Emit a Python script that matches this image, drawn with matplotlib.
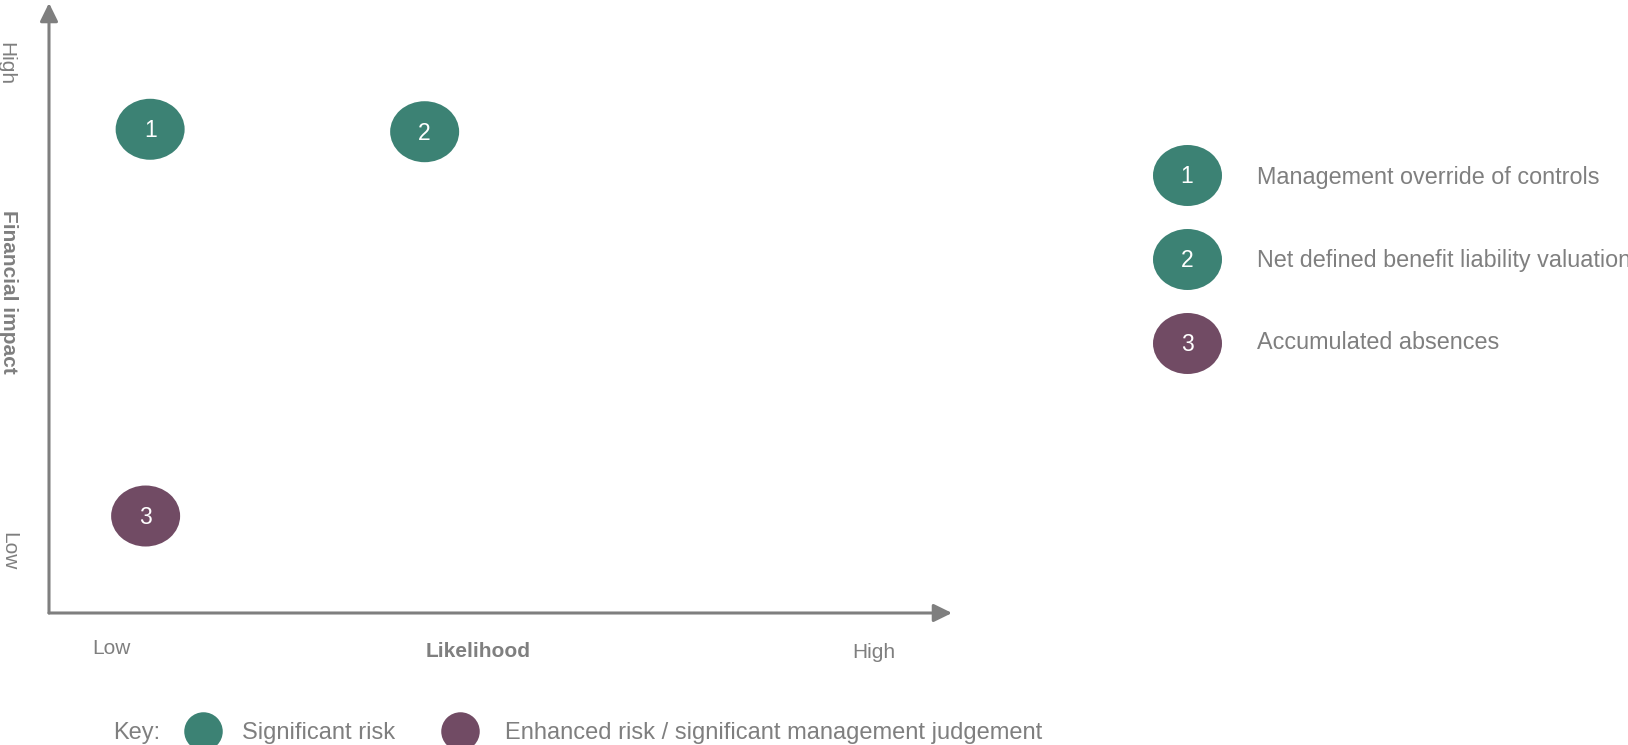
import matplotlib
matplotlib.use("Agg")
import matplotlib.pyplot as plt
from matplotlib.path import Path
from matplotlib.transforms import Affine2D

plt.rcParams['font.family'] = ['Liberation Sans', 'DejaVu Sans']

# ---- data -------------------------------------------------------------
risk_ids = ['1', '2', '3']
risk_names = ['Management override of controls',
              'Net defined benefit liability valuation',
              'Accumulated absences']
key_labels = ['Significant risk',
              'Enhanced risk / significant management judgement']
risk_types = [key_labels[0], key_labels[0], key_labels[1]]
likelihood = [1.12, 4.16, 1.07]   # 0 (low) .. 10 (high)
impact = [7.93, 7.89, 1.59]       # 0 (low) .. 10 (high)
scale_ends = ['Low', 'High']

# ---- style ------------------------------------------------------------
TEAL = '#3c8274'
PLUM = '#714b64'
GREY = '#7f7f7f'
type_colors = {key_labels[0]: TEAL, key_labels[1]: PLUM}

W, H, DPI = 1628, 745, 100
fig = plt.figure(figsize=(W / DPI, H / DPI), dpi=DPI)

# layer in pixel units for labels, legend and key
lay = fig.add_axes([0, 0, 1, 1])
lay.set_xlim(0, W)
lay.set_ylim(H, 0)
lay.axis('off')

# risk matrix axes
x0, x1, ytop, ybot = 49, 952, 3, 613
ax = fig.add_axes([x0 / W, (H - ybot) / H, (x1 - x0) / W, (ybot - ytop) / H])
ax.set_xlim(0, 10)
ax.set_ylim(0, 10)
ax.axis('off')
ax.patch.set_alpha(0)

arrow = dict(arrowstyle='-|>,head_length=0.55,head_width=0.27', color=GREY,
             lw=2.2, shrinkA=0, shrinkB=0, mutation_scale=20)
ax.annotate('', xy=(1, 0), xytext=(0, 0), xycoords='axes fraction',
            arrowprops=arrow, annotation_clip=False)
ax.annotate('', xy=(0, 1), xytext=(0, 0), xycoords='axes fraction',
            arrowprops=arrow, annotation_clip=False)

# elliptical bubble marker (wider than tall)
bubble = Path.unit_circle().transformed(Affine2D().scale(1.0, 61 / 69))
BUBBLE_S = (69 * 72 / DPI) ** 2
NUM_SIZE = 16.5
num_shift = -0.716 * NUM_SIZE / 2

colors = [type_colors[t] for t in risk_types]
ax.scatter(likelihood, impact, s=BUBBLE_S, marker=bubble, c=colors,
           linewidths=0, zorder=3, clip_on=False)
for rid, x, y in zip(risk_ids, likelihood, impact):
    ax.annotate(rid, (x, y), xytext=(0, num_shift), textcoords='offset points',
                ha='center', va='baseline', color='white', fontsize=NUM_SIZE,
                zorder=4)

# axis labels
lay.text(111, 654, scale_ends[0], ha='center', va='baseline', fontsize=15, color=GREY)
lay.text(478, 657, 'Likelihood', ha='center', va='baseline', fontsize=15,
         fontweight='bold', color=GREY)
lay.text(874, 658, scale_ends[1], ha='center', va='baseline', fontsize=15, color=GREY)

rot = dict(rotation=270, rotation_mode='anchor', ha='center', va='baseline', color=GREY)
lay.text(0, 64, scale_ends[1], fontsize=15, **rot)
lay.text(3, 551, scale_ends[0], fontsize=15, **rot)
lay.text(2.5, 292, 'Financial impact', fontsize=15, fontweight='bold', **rot)

# numbered legend on the right
leg_x, leg_y0, leg_dy = 1187, 174.5, 84.3
txt_x, txt_y0, txt_dy = 1257, 184, 82.5
for i, (rid, name, rtype) in enumerate(zip(risk_ids, risk_names, risk_types)):
    by = leg_y0 + i * leg_dy
    lay.scatter([leg_x], [by], s=BUBBLE_S, marker=bubble, c=type_colors[rtype],
                linewidths=0, zorder=3)
    lay.annotate(rid, (leg_x, by), xytext=(0, num_shift), textcoords='offset points',
                 ha='center', va='baseline', color='white', fontsize=NUM_SIZE, zorder=4)
    lay.text(txt_x, txt_y0 + i * txt_dy, name, ha='left', va='baseline',
             fontsize=16.8, color=GREY)

# key along the bottom
KEY_S = (38.5 * 72 / DPI) ** 2
lay.text(113, 739, 'Key:', ha='left', va='baseline', fontsize=17, color=GREY)
key_dots = [203, 460]
key_text = [242, 505]
for lbl, dx, tx in zip(key_labels, key_dots, key_text):
    lay.scatter([dx], [731], s=KEY_S, marker='o', c=type_colors[lbl],
                linewidths=0, zorder=3, clip_on=False)
    lay.text(tx, 739, lbl, ha='left', va='baseline', fontsize=17, color=GREY)

fig.savefig('out.png', dpi=DPI)
